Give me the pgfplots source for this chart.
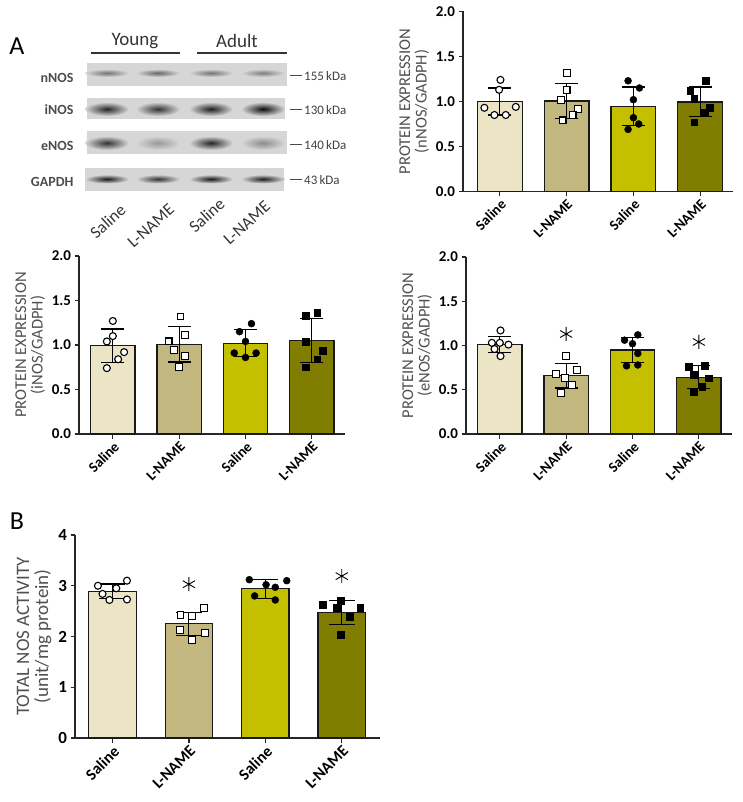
\documentclass[border=0pt]{standalone}
\usepackage{fontspec}
\setmainfont{Carlito}
\usepackage{pgfplots}
\pgfplotsset{compat=1.18}
\definecolor{cA}{HTML}{EBE5C6}
\definecolor{cB}{HTML}{C2B77F}
\definecolor{cC}{HTML}{C4C000}
\definecolor{cD}{HTML}{807D00}
\definecolor{lbl}{HTML}{505050}
\definecolor{blot}{HTML}{D6D6D6}
\newcommand{\fs}[1]{\fontsize{#1}{#1}\selectfont}
\pgfplotsset{
  nos/.style={
    scale only axis, clip=false,
    axis lines=left,
    axis line style={-, line width=1.3pt, black!85},
    tick style={line width=1.3pt, black!85},
    major tick length=4.5pt, tick align=outside,
    xtick={0,1,2,3}, xticklabels={Saline,L-NAME,Saline,L-NAME},
    /pgf/number format/assume math mode=true,
    ymin=0,
    ylabel style={align=center, text=lbl},
    x tick label style={rotate=45, anchor=north east, inner sep=1.5pt},
  },
  topfont/.style={
    x tick label style={font=\fs{14.5}\bfseries},
    y tick label style={font=\fs{15}\bfseries},
    ylabel style={font=\fs{16.5}},
    ymax=2, ytick={0,0.5,1,1.5,2},
    yticklabel style={/pgf/number format/.cd, fixed, fixed zerofill, precision=1},
  },
  barp/.style={ybar, draw=black!90, line width=1.2pt, fill=#1},
  eb/.style={draw=none, mark=none, forget plot,
    error bars/y dir=both, error bars/y explicit,
    error bars/error bar style={draw=black, line width=1.2pt},
    error bars/error mark options={draw=black, line width=1.2pt, mark size=#1, rotate=90}},
  oc/.style={only marks, mark=*, mark size=3.5pt, mark options={fill=white, draw=black, line width=1.1pt}},
  os/.style={only marks, mark=square*, mark size=3.4pt, mark options={fill=white, draw=black, line width=1.1pt}},
  fc/.style={only marks, mark=*, mark size=3.5pt, mark options={fill=black, draw=black}},
  fsq/.style={only marks, mark=square*, mark size=3.4pt, mark options={fill=black, draw=black}},
  ast/.style={only marks, mark=asterisk, mark size=7pt, mark options={line width=0.9pt, black}},
}
\begin{document}
\begin{tikzpicture}[x=1pt,y=1pt]
\useasboundingbox (0,0) rectangle (742,-802);
% ---------------- Western blot (panel A, decorative) ----------------
\node[font=\fs{26}] at (17,-46) {A};
\node[font=\fs{19}, text=black!80] at (135,-41) {Young};
\node[font=\fs{19}, text=black!80] at (237,-41) {Adult};
\draw[line width=2pt, black!80] (91,-53) -- (180,-53);
\draw[line width=2pt, black!80] (197,-53) -- (287,-53);
\foreach \nm/\yy in {nNOS/78, iNOS/110, eNOS/146, GAPDH/182}
  \node[font=\fs{14}\bfseries, text=black!70, anchor=east] at (77,-\yy) {\nm};
\fill[blot] (87,-63) rectangle (287,-86);
\fill[blot] (87,-98) rectangle (285,-119);
\fill[blot] (87,-131) rectangle (287,-154);
\fill[blot] (85,-168) rectangle (284,-191);
% bands
\foreach \cx/\op in {107/55, 158/60, 211/55, 263/50}
  \shade[inner color=black!\op, outer color=blot] (\cx,-73) ellipse (22 and 4);
\foreach \cx/\op in {107/85, 158/80, 211/88, 263/95}
  \shade[inner color=black!\op, outer color=blot] (\cx,-109) ellipse (22 and 7);
\foreach \cx/\op in {107/80, 158/40, 211/85, 263/45}
  \shade[inner color=black!\op, outer color=blot] (\cx,-143) ellipse (22 and 7);
\foreach \cx/\op in {107/90, 158/80, 211/90, 263/88}
  \shade[inner color=black!\op, outer color=blot] (\cx,-179) ellipse (22 and 4.5);
\foreach \kd/\yy in {155/76, 130/110, 140/145, 43/180}{
  \draw[line width=1pt, black!70] (290,-\yy) -- (302,-\yy);
  \node[font=\fs{13}, text=black!75, anchor=west, inner sep=1pt] at (303,-\yy) {\kd\,kDa};}
\foreach \tx/\ex/\ey in {Saline/119/203, L-NAME/168/203, Saline/218/197, L-NAME/264/200}
  \node[font=\fs{17}, text=black!80, rotate=42, anchor=north east, inner sep=0pt] at (\ex,-\ey) {\tx};
\node[font=\fs{26}] at (17,-521) {B};
% ---------------- nNOS ----------------
\begin{axis}[nos, topfont, at={(463pt,-191.5pt)}, anchor=south west,
  width=270pt, height=180pt, xmin=-0.55, xmax=3.49,
  ylabel={PROTEIN EXPRESSION\\(nNOS/GADPH)}]
\addplot[barp=cA, bar width=0.67] coordinates {(0,1.0)};
\addplot[barp=cB, bar width=0.67] coordinates {(1,1.005)};
\addplot[barp=cC, bar width=0.67] coordinates {(2,0.945)};
\addplot[barp=cD, bar width=0.67] coordinates {(3,0.995)};
\addplot[eb=11.5pt] coordinates {(0,1.0) +- (0,0.15) (1,1.005) +- (0,0.195) (2,0.945) +- (0,0.215) (3,0.995) +- (0,0.165)};
\addplot[oc] coordinates {(0.01,1.24) (-0.01,1.13) (-0.23,0.93) (0.24,0.94) (-0.08,0.85) (0.09,0.85)};
\addplot[os] coordinates {(1.01,1.32) (1.00,1.13) (0.92,1.02) (1.17,0.92) (1.09,0.85) (0.94,0.79)};
\addplot[fc] coordinates {(1.92,1.23) (2.09,1.15) (2.00,1.02) (2.00,0.82) (2.08,0.75) (1.92,0.69)};
\addplot[fsq] coordinates {(3.08,1.23) (2.85,1.12) (2.91,1.03) (3.14,0.93) (3.07,0.88) (2.91,0.77)};
\end{axis}
% ---------------- iNOS ----------------
\begin{axis}[nos, topfont, at={(79pt,-434pt)}, anchor=south west,
  width=266pt, height=178pt, xmin=-0.51, xmax=3.5,
  ylabel={PROTEIN EXPRESSION\\(iNOS/GADPH)}]
\addplot[barp=cA, bar width=0.67] coordinates {(0,0.99)};
\addplot[barp=cB, bar width=0.67] coordinates {(1,1.01)};
\addplot[barp=cC, bar width=0.67] coordinates {(2,1.02)};
\addplot[barp=cD, bar width=0.67] coordinates {(3,1.05)};
\addplot[eb=11.5pt] coordinates {(0,0.99) +- (0,0.19) (1,1.01) +- (0,0.20) (2,1.02) +- (0,0.15) (3,1.05) +- (0,0.245)};
\addplot[oc] coordinates {(0.00,1.27) (0.00,1.10) (-0.09,1.04) (0.17,0.92) (0.08,0.84) (-0.09,0.74)};
\addplot[os] coordinates {(1.02,1.32) (1.09,1.11) (0.84,1.04) (0.92,0.94) (1.09,0.88) (1.00,0.75)};
\addplot[fc] coordinates {(2.09,1.24) (1.91,1.15) (2.00,1.04) (1.83,0.91) (2.16,0.91) (2.00,0.86)};
\addplot[fsq] coordinates {(3.08,1.36) (2.91,1.33) (2.91,1.04) (3.16,0.94) (3.08,0.84) (2.91,0.75)};
\end{axis}
% ---------------- eNOS ----------------
\begin{axis}[nos, topfont, at={(466pt,-434pt)}, anchor=south west,
  width=266pt, height=177pt, xmin=-0.51, xmax=3.5,
  ylabel={PROTEIN EXPRESSION\\(eNOS/GADPH)}]
\addplot[barp=cA, bar width=0.67] coordinates {(0,1.01)};
\addplot[barp=cB, bar width=0.67] coordinates {(1,0.66)};
\addplot[barp=cC, bar width=0.67] coordinates {(2,0.95)};
\addplot[barp=cD, bar width=0.67] coordinates {(3,0.64)};
\addplot[eb=11.5pt] coordinates {(0,1.01) +- (0,0.09) (1,0.66) +- (0,0.14) (2,0.95) +- (0,0.14) (3,0.64) +- (0,0.13)};
\addplot[oc] coordinates {(0.01,1.17) (-0.12,1.03) (0.00,1.03) (0.13,1.01) (-0.08,0.96) (0.01,0.88)};
\addplot[os] coordinates {(1.00,0.88) (0.85,0.68) (1.16,0.72) (0.98,0.63) (1.09,0.55) (0.92,0.46)};
\addplot[fc] coordinates {(2.08,1.12) (1.88,1.06) (2.00,1.02) (2.08,0.91) (1.91,0.77) (2.08,0.78)};
\addplot[fsq] coordinates {(2.85,0.76) (3.09,0.77) (2.92,0.67) (3.15,0.63) (3.05,0.53) (2.92,0.48)};
\addplot[ast] coordinates {(1,1.13) (3,1.04)};
\end{axis}
% ---------------- B: total NOS activity ----------------
\begin{axis}[nos, at={(75pt,-738pt)}, anchor=south west,
  width=305pt, height=203pt, xmin=-0.49, xmax=3.5,
  ymax=4, ytick={0,1,2,3,4},
  x tick label style={font=\fs{16}\bfseries},
  y tick label style={font=\fs{17}\bfseries},
  ylabel style={font=\fs{19}},
  ylabel={TOTAL NOS ACTIVITY\\(unit/mg protein)}]
\addplot[barp=cA, bar width=0.62] coordinates {(0,2.89)};
\addplot[barp=cB, bar width=0.62] coordinates {(1,2.25)};
\addplot[barp=cC, bar width=0.62] coordinates {(2,2.94)};
\addplot[barp=cD, bar width=0.62] coordinates {(3,2.47)};
\addplot[eb=13pt] coordinates {(0,2.89) +- (0,0.145) (1,2.25) +- (0,0.23) (2,2.94) +- (0,0.19) (3,2.47) +- (0,0.235)};
\addplot[oc] coordinates {(-0.19,3.00) (0.19,3.10) (0.05,2.95) (-0.13,2.84) (-0.04,2.72) (0.19,2.73)};
\addplot[os] coordinates {(1.20,2.56) (0.89,2.43) (1.04,2.40) (0.88,2.13) (1.21,2.07) (1.04,1.93)};
\addplot[fc] coordinates {(1.79,3.12) (2.28,3.10) (2.01,3.02) (2.13,2.97) (1.86,2.80) (2.13,2.72)};
\addplot[fsq] coordinates {(2.75,2.62) (2.99,2.70) (3.24,2.56) (2.93,2.56) (3.10,2.39) (2.99,2.03)};
\addplot[ast] coordinates {(1,3.03) (3,3.19)};
\end{axis}
\end{tikzpicture}
\end{document}
